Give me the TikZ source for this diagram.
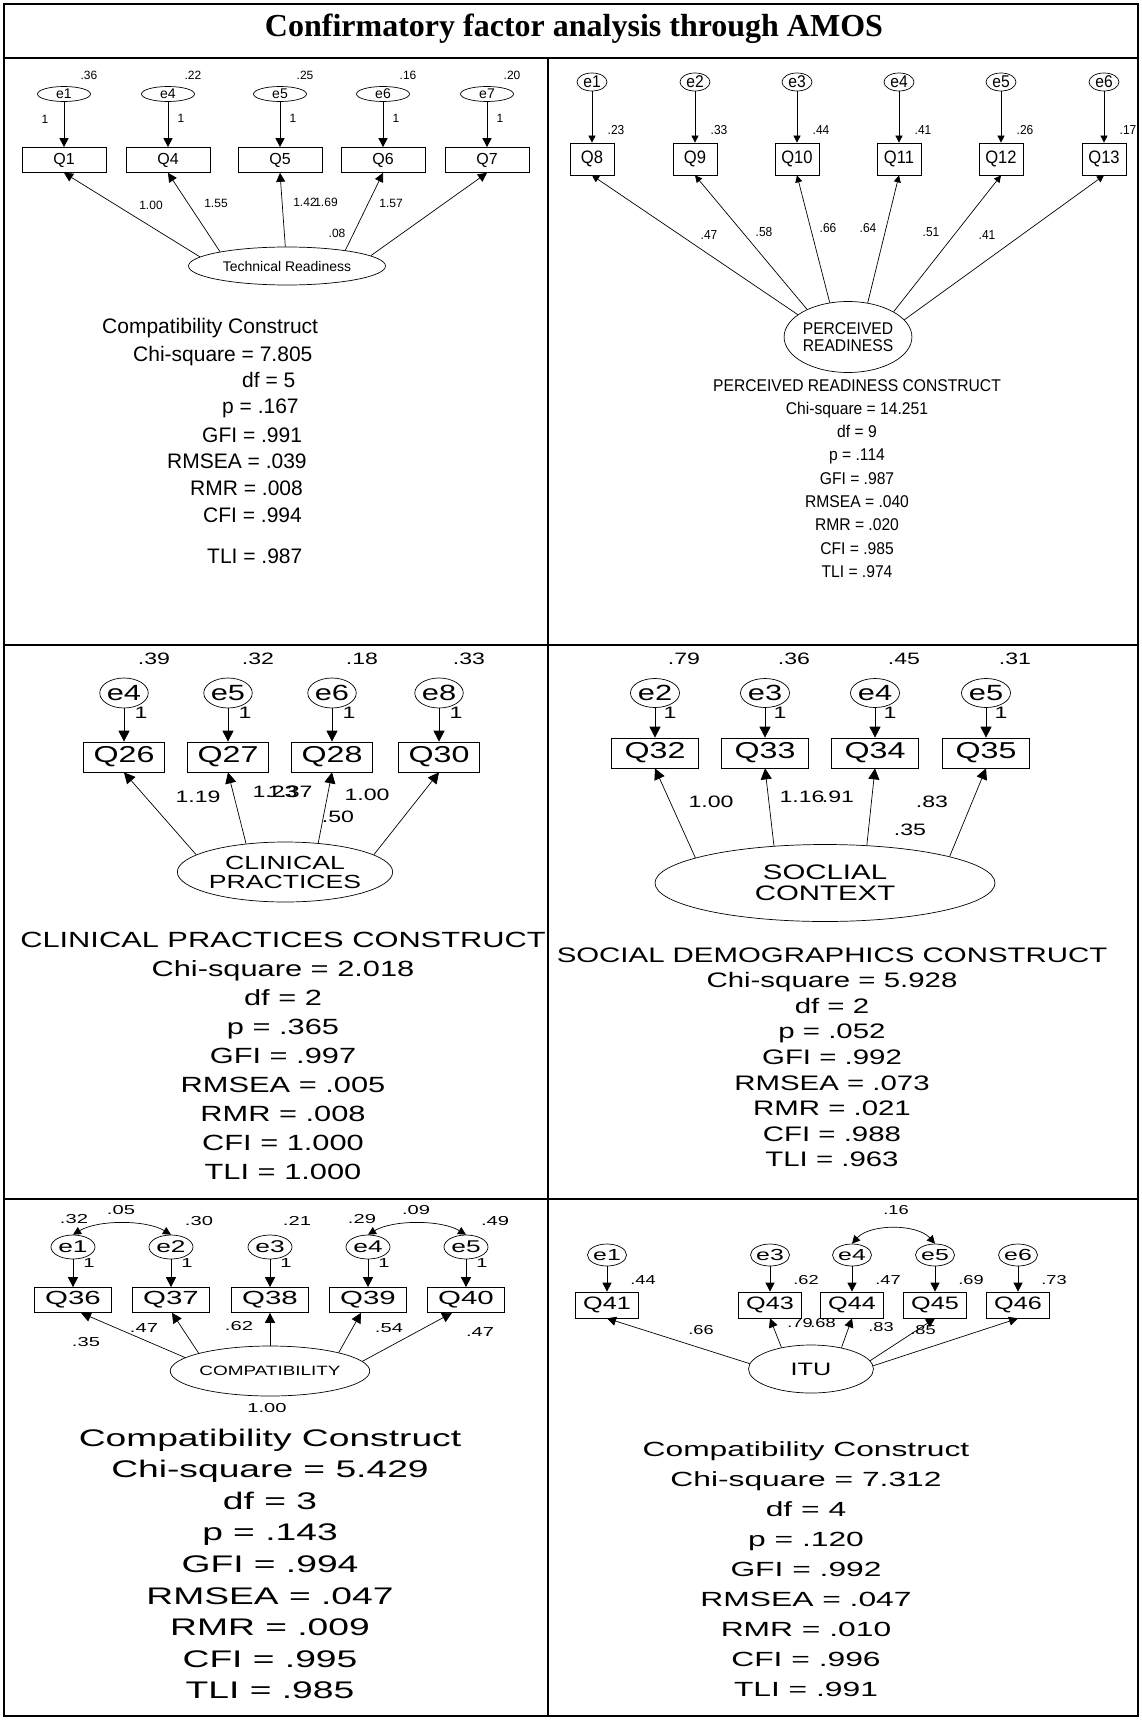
\documentclass[tikz,border=0pt]{standalone}
\usepackage{fontspec}
\setmainfont{Liberation Serif}
\newfontfamily\amosfont{Liberation Sans}
\newfontfamily\amosnarrow[FakeStretch=0.92]{Liberation Sans}
\newfontfamily\amoswide[FakeStretch=1.4]{Liberation Sans}
\newfontfamily\amosxwide[FakeStretch=1.55]{Liberation Sans}
\newcommand\fsz[1]{\fontsize{#1}{#1}\selectfont}
\usetikzlibrary{positioning}
\usetikzlibrary{shapes.geometric}
\usetikzlibrary{arrows.meta}

\tikzset{
  rule/.style={line width=1.8pt},
  errv/.style={draw, ellipse, inner sep=0pt, line width=0.7pt},
  obs/.style={draw, rectangle, inner sep=0pt, line width=0.7pt},
  latent/.style={draw, ellipse, inner sep=0pt, line width=0.7pt, align=center},
  est/.style={inner sep=0pt},
  fitline/.style={inner sep=0pt, anchor=base},
  amos/.style={line width=0.7pt, -{Triangle[length=#1pt, width=#1pt]}},
  cov/.style={line width=0.7pt, {Triangle[length=#1pt, width=#1pt]}-{Triangle[length=#1pt, width=#1pt]}},
}

\begin{document}
\begin{tikzpicture}[x=1pt, y=-1pt]
\useasboundingbox (0,0) rectangle (1142,1720);

% table frame
\draw[rule] (4,4) rectangle (1138,1716);
\draw[rule] (4,58) -- (1138,58);
\draw[rule] (4,645) -- (1138,645);
\draw[rule] (4,1199) -- (1138,1199);
\draw[rule] (548,58) -- (548,1716);
\node[anchor=base, inner sep=0pt, font=\bfseries\fsz{32}] (title) at (574,37) {Confirmatory factor analysis through AMOS};

% --- technical readiness
\begin{scope}[font=\amosfont\fsz{12}]
\node[latent, minimum width=197, minimum height=38, font=\amosfont\fsz{14}] (tr) at (287,266) {Technical Readiness};
\foreach \e/\q/\x/\v/\a in {e1/Q1/64/.36/174, e4/Q4/168/.22/168, e5/Q5/280/.25/95, e6/Q6/383/.16/15, e7/Q7/487/.20/7}{
  \node[errv, minimum width=53, minimum height=15, font=\amosfont\fsz{14}] (tr-\e) at (\x,94) {\e};
  \node[obs, minimum width=84, minimum height=25, font=\amosfont\fsz{16}] (tr-\q) at (\x,160) {\q};
  \node[est] (tr-var-\e) at (\x+25,75) {\v};
  \draw[amos=9] (tr-\e) -- (tr-\q);
  \draw[amos=9] (tr.\a) -- (tr-\q.south);
}
\node[est] (tr-w-e1) at (45,119) {1};
\foreach \e/\x in {e4/168, e5/280, e6/383, e7/487}
  \node[est] (tr-w-\e) at (\x+13,118) {1};
\node[est] (tr-l1) at (151,205) {1.00};
\node[est] (tr-l2) at (216,203) {1.55};
\node[est] (tr-l3) at (305,202) {1.42};
\node[est] (tr-l4) at (326,202) {1.69};
\node[est] (tr-l5) at (391,203) {1.57};
\node[est] (tr-var) at (337,233) {.08};
\foreach \t/\x/\y [count=\i] in {Compatibility Construct/102/333, Chi-square = 7.805/133/361,
    df = 5/242/387, p = .167/222/413, GFI = .991/202/442, RMSEA = .039/167/468,
    RMR = .008/190/495, CFI = .994/203/522, TLI = .987/207/563}
  \node[fitline, anchor=base west, font=\amosfont\fsz{21}] (tr-fit\i) at (\x,\y) {\t};
\end{scope}

% --- perceived readiness
\begin{scope}[font=\amosnarrow\fsz{13}]
\node[latent, minimum width=111, minimum height=71, font=\amosnarrow\fsz{17}] (pr) at (848,337) {PERCEIVED\\READINESS};
\foreach \i/\q/\x/\v/\a in {1/Q8/592/.23/156, 2/Q9/695/.33/146, 3/Q10/797/.44/118, 4/Q11/899/.41/60, 5/Q12/1001/.26/29, 6/Q13/1104/.17/17}{
  \node[errv, minimum width=30, minimum height=18, font=\amosnarrow\fsz{17}] (pr-e\i) at (\x,82) {e\i};
  \node[obs, minimum width=44, minimum height=32, font=\amosnarrow\fsz{18}] (pr-\q) at (\x,159) {\q};
  \node[est] (pr-var-\i) at (\x+24,130) {\v};
  \draw[amos=7] (pr-e\i) -- (pr-\q);
  \draw[amos=7] (pr.\a) -- (pr-\q.south);
}
\foreach \v/\x/\y [count=\i] in {.47/709/235, .58/764/232, .66/828/228, .64/868/228, .51/931/232, .41/987/235}
  \node[est] (pr-l\i) at (\x,\y) {\v};
\foreach \t [count=\i] in {PERCEIVED READINESS CONSTRUCT, Chi-square = 14.251, df = 9, p = .114,
    GFI = .987, RMSEA = .040, RMR = .020, CFI = .985, TLI = .974}
  \node[fitline, font=\amosnarrow\fsz{17}] (pr-fit\i) at (857,391+23.3*\i-23.3) {\t};
\end{scope}

% --- clinical practices
\begin{scope}[font=\amoswide\fsz{16.5}]
\node[latent, minimum width=184, minimum height=60, font=\amoswide\fsz{19}] (cp) at (285,872) {CLINICAL\\PRACTICES};
\foreach \e/\q/\x/\v/\a in {e4/Q26/124/.39/169, e5/Q27/228/.32/144, e6/Q28/332/.18/41, e8/Q30/439/.33/11}{
  \node[errv, minimum width=44, minimum height=30, font=\amoswide\fsz{22}] (cp-\e) at (\x,693) {\e};
  \node[obs, minimum width=81, minimum height=30, font=\amoswide\fsz{23}] (cp-\q) at (\x,757) {\q};
  \node[est] (cp-var-\e) at (\x+30,659) {\v};
  \node[est] (cp-w-\e) at (\x+17,713) {1};
  \draw[amos=11] (cp-\e) -- (cp-\q);
  \draw[amos=11] (cp.\a) -- (cp-\q.south);
}
\node[est] (cp-l1) at (198,797) {1.19};
\node[est] (cp-l2) at (275,792) {1.23};
\node[est] (cp-l3) at (290,792) {1.37};
\node[est] (cp-l4) at (367,795) {1.00};
\node[est] (cp-var) at (338,817) {.50};
\foreach \t [count=\i] in {CLINICAL PRACTICES CONSTRUCT, Chi-square = 2.018, df = 2, p = .365,
    GFI = .997, RMSEA = .005, RMR = .008, CFI = 1.000, TLI = 1.000}
  \node[fitline, font=\amoswide\fsz{22}] (cp-fit\i) at (283,947+29*\i-29) {\t};
\end{scope}

% --- social context
\begin{scope}[font=\amoswide\fsz{16.5}]
\node[latent, minimum width=340, minimum height=77, font=\amoswide\fsz{21}] (sc) at (825,883) {SOCLIAL\\CONTEXT};
\foreach \e/\q/\x/\v/\a in {e2/Q32/655/.79/169, e3/Q33/765/.36/144, e4/Q34/875/.45/42, e5/Q35/986/.31/12}{
  \node[errv, minimum width=49, minimum height=29, font=\amoswide\fsz{22}] (sc-\e) at (\x,693) {\e};
  \node[obs, minimum width=87, minimum height=30, font=\amoswide\fsz{23}] (sc-\q) at (\x,753) {\q};
  \node[est] (sc-var-\e) at (\x+29,659) {\v};
  \node[est] (sc-w-\e) at (\x+15,713) {1};
  \draw[amos=11] (sc-\e) -- (sc-\q);
  \draw[amos=11] (sc.\a) -- (sc-\q.south);
}
\node[est] (sc-l1) at (711,802) {1.00};
\node[est] (sc-l2) at (802,797) {1.16};
\node[est] (sc-l3) at (838,797) {.91};
\node[est] (sc-l4) at (932,802) {.83};
\node[est] (sc-var) at (910,830) {.35};
\foreach \t [count=\i] in {SOCIAL DEMOGRAPHICS CONSTRUCT, Chi-square = 5.928, df = 2, p = .052,
    GFI = .992, RMSEA = .073, RMR = .021, CFI = .988, TLI = .963}
  \node[fitline, font=\amoswide\fsz{21}] (sc-fit\i) at (832,962+25.6*\i-25.6) {\t};
\end{scope}

% --- compatibility
\begin{scope}[font=\amosxwide\fsz{13}]
\node[latent, minimum width=150, minimum height=50, font=\amoswide\fsz{13.5}] (cm) at (270,1371) {COMPATIBILITY};
\foreach \e/\q/\x/\v/\vx/\vy/\a/\dx in {e1/Q36/73/.32/74/1219/171/8, e2/Q37/171/.30/199/1221/166/1,
    e3/Q38/270/.21/297/1221/90/0, e4/Q39/368/.29/362/1219/15/-7, e5/Q40/466/.49/495/1221/6/-14}{
  \node[errv, minimum width=44, minimum height=24, font=\amosxwide\fsz{17}] (cm-\e) at (\x,1247) {\e};
  \node[obs, minimum width=77, minimum height=25, font=\amosxwide\fsz{19}] (cm-\q) at (\x,1300) {\q};
  \node[est] (cm-var-\e) at (\vx,\vy) {\v};
  \node[est] (cm-w-\e) at (\x+16,1263) {1};
  \draw[amos=10] (cm-\e) -- (cm-\q);
  \draw[amos=10] (cm.\a) -- ([xshift=\dx pt]cm-\q.south);
}
\draw[cov=8] (cm-e1.north) .. controls +(25,-15) and +(-25,-15) .. (cm-e2.north);
\draw[cov=8] (cm-e4.north) .. controls +(25,-15) and +(-25,-15) .. (cm-e5.north);
\node[est] (cm-c12) at (121,1210) {.05};
\node[est] (cm-c45) at (416,1210) {.09};
\foreach \v/\x/\y [count=\i] in {.35/86/1342, .47/144/1328, .62/239/1326, .54/389/1328, .47/480/1332}
  \node[est] (cm-l\i) at (\x,\y) {\v};
\node[est] (cm-var) at (267,1408) {1.00};
\foreach \t [count=\i] in {Compatibility Construct, Chi-square = 5.429, df = 3, p = .143,
    GFI = .994, RMSEA = .047, RMR = .009, CFI = .995, TLI = .985}
  \node[fitline, font=\amosxwide\fsz{24}] (cm-fit\i) at (270,1446+31.6*\i-31.6) {\t};
\end{scope}

% --- intention to use
\begin{scope}[font=\amoswide\fsz{13}]
\node[latent, minimum width=125, minimum height=48, font=\amoswide\fsz{18}] (itu) at (811,1369) {ITU};
\foreach \e/\q/\x/\v/\a in {e1/Q41/607/.44/175, e3/Q43/770/.62/144, e4/Q44/852/.47/35, e5/Q45/935/.69/8, e6/Q46/1018/.73/3}{
  \node[errv, minimum width=36, minimum height=22, font=\amosxwide\fsz{16}] (itu-\e) at (\x,1255) {\e};
  \node[obs, minimum width=63, minimum height=26, font=\amoswide\fsz{18}] (itu-\q) at (\x,1305) {\q};
  \node[est] (itu-var-\e) at (\x+36,1280) {\v};
  \draw[amos=9] (itu-\e) -- (itu-\q);
  \draw[amos=9] (itu.\a) -- (itu-\q.south);
}
\draw[cov=8] (itu-e4.north) .. controls +(18,-20) and +(-18,-20) .. (itu-e5.north);
\node[est] (itu-c45) at (896,1210) {.16};
\foreach \v/\x/\y [count=\i] in {.66/701/1330, .79/800/1323, .68/823/1323, .83/881/1327, .85/923/1330}
  \node[est] (itu-l\i) at (\x,\y) {\v};
\foreach \t [count=\i] in {Compatibility Construct, Chi-square = 7.312, df = 4, p = .120,
    GFI = .992, RMSEA = .047, RMR = .010, CFI = .996, TLI = .991}
  \node[fitline, font=\amosxwide\fsz{20.5}] (itu-fit\i) at (806,1456+30*\i-30) {\t};
\end{scope}
\end{tikzpicture}
\end{document}
